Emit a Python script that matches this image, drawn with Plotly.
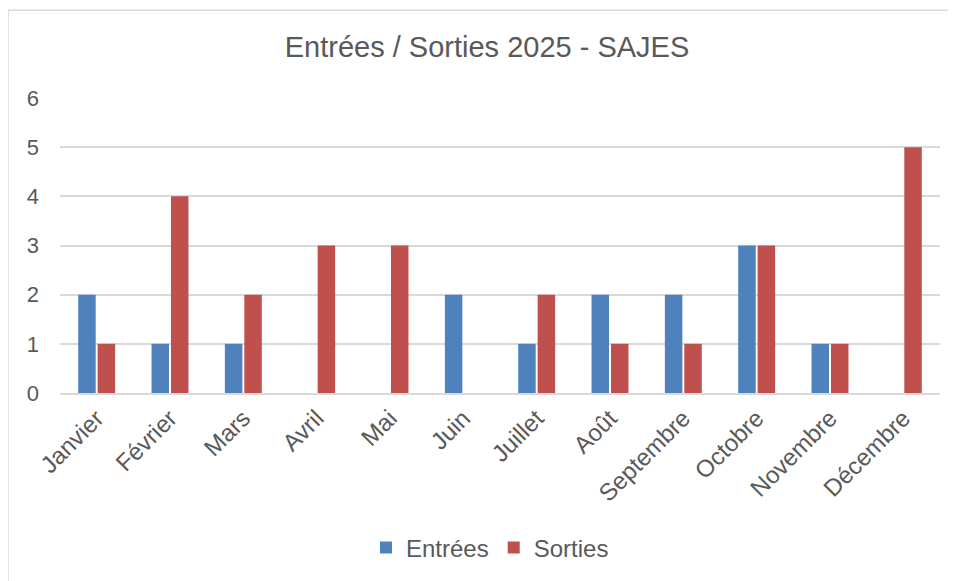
import plotly.graph_objects as go

months = ["Janvier", "Février", "Mars", "Avril", "Mai", "Juin", "Juillet",
          "Août", "Septembre", "Octobre", "Novembre", "Décembre"]
entrees = [2, 1, 1, 0, 0, 2, 1, 2, 2, 3, 1, 0]
sorties = [1, 4, 2, 3, 3, 0, 2, 1, 1, 3, 1, 5]

OFF = 8  # page body margin
W, H = 956 - OFF, 581 - OFF
# plot area in page coords: x 60..940, y 98..394
L, T = 60 - OFF, 98 - OFF
R = W - (940 - OFF)
B = H - (394 - OFF)
pw, ph = W - L - R, H - T - B

fig = go.Figure()
fig.add_trace(go.Bar(name="Entrées", x=months, y=entrees, marker_color="#4F81BD",
                     marker_line_width=0))
fig.add_trace(go.Bar(name="Sorties", x=months, y=sorties, marker_color="#C0504D",
                     marker_line_width=0))

FAM = "Liberation Sans, Arial"
fig.update_layout(
    width=W, height=H,
    margin=dict(l=L, r=R, t=T, b=B),
    paper_bgcolor="white", plot_bgcolor="white",
    barmode="group", bargap=0.47, bargroupgap=0.1,
    font=dict(family=FAM, color="#595959"),
    title=dict(text="Entrées / Sorties 2025 - SAJES", x=(487 - 60) / pw, xref="paper",
               xanchor="center", y=1 - (47 - OFF) / H, yanchor="middle",
               font=dict(size=29, family=FAM, color="#595959")),
    legend=dict(orientation="h", x=(490 - 60) / pw, xanchor="center",
                y=-(548 - 394) / ph, yanchor="middle",
                font=dict(size=24, family=FAM, color="#595959"),
                itemwidth=30, traceorder="normal"),
    xaxis=dict(tickangle=-45, tickfont=dict(size=24), showgrid=False,
               showline=True, linecolor="#d9d9d9", linewidth=1.5, ticks=""),
    yaxis=dict(range=[0, 6], dtick=1, tickfont=dict(size=22), showgrid=True,
               gridcolor="#d9d9d9", gridwidth=1.5, zeroline=False, ticks="",
               ticklabelstandoff=20),
    shapes=[dict(type="rect", xref="paper", yref="paper",
                 x0=(8 - 60) / pw, x1=(970 - 60) / pw,
                 y0=-(600 - 394) / ph, y1=1 + (98 - 10) / ph,
                 line=dict(color="#d9d9d9", width=1.5), layer="below")],
)

fig.write_html("out.html")
